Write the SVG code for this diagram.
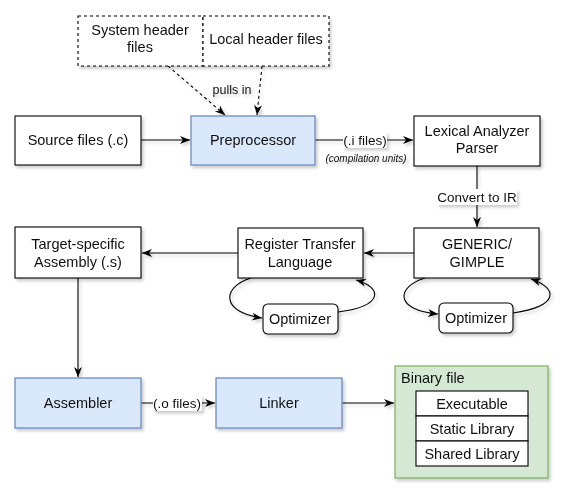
<svg xmlns="http://www.w3.org/2000/svg" width="575" height="502" viewBox="0 0 575 502">
<style>
text{font-family:"Liberation Sans",Arial,sans-serif;fill:#111;text-anchor:middle;dominant-baseline:central}
.n{font-size:14.5px}
.l{font-size:13.5px}
.box{fill:#fff;stroke:#000;stroke-width:1.1}
.blue{fill:#dae8fc;stroke:#6c8ebf;stroke-width:1.3}
.green{fill:#d5e8d4;stroke:#82b366;stroke-width:1.3}
.dash{fill:#fff;stroke:#000;stroke-width:1.1;stroke-dasharray:3 3}
.e{fill:none;stroke:#000;stroke-width:1.1;marker-end:url(#arr)}
.ed{fill:none;stroke:#000;stroke-width:1.1;stroke-dasharray:3 3;marker-end:url(#arr)}
.lb{fill:#fff}
</style>
<defs>
<filter id="sh" x="-10%" y="-10%" width="130%" height="140%">
<feDropShadow dx="2" dy="2.5" stdDeviation="1.5" flood-color="#000" flood-opacity="0.2"/>
</filter>
<marker id="arr" viewBox="0 0 10 10" refX="10" refY="5" markerWidth="10" markerHeight="10" markerUnits="userSpaceOnUse" orient="auto">
<path d="M0,1 L10,5 L0,9 L3,5 z" fill="#000"/>
</marker>
</defs>

<g id="connectors" filter="url(#sh)">
<path class="ed" d="M168,66 L225,115"/>
<path class="ed" d="M262,66 L257,115"/>
<path class="e" d="M141,140 L190,140"/>
<path class="e" d="M315,140 L413,140"/>
<path class="e" d="M477,166 L477,227"/>
<path class="e" d="M414,253 L364,253"/>
<path class="e" d="M238,253 L142,253"/>
<path class="e" d="M78,278 L78,377"/>
<path class="e" d="M141,403 L215,403"/>
<path class="e" d="M342,403 L394,403"/>
<path class="e" d="M251,278 C222,287 220,312 262,318"/>
<path class="e" d="M338,312 C385,306 382,287 356,280"/>
<path class="e" d="M425,278 C396,287 394,310 438,314"/>
<path class="e" d="M513,313 C560,306 558,288 531,279"/>
<rect class="lb" x="343" y="132" width="44" height="16"/>
<text class="l" x="365" y="140">(.i files)</text>
<text x="366" y="158" style="font-size:10px;font-style:italic">(compilation units)</text>
<rect class="lb" x="437" y="189" width="80" height="16"/>
<text class="l" x="477" y="197">Convert to IR</text>
<text x="232" y="90" style="font-size:12.5px">pulls in</text>
<rect class="lb" x="153" y="395" width="49" height="16"/>
<text class="l" x="177" y="403">(.o files)</text>
</g>

<g id="system-header" filter="url(#sh)">
<rect class="dash" x="78" y="16" width="125" height="50"/>
<text class="n" x="140" y="30">System header</text>
<text class="n" x="140" y="47">files</text>
</g>
<g id="local-header" filter="url(#sh)">
<rect class="dash" x="203" y="16" width="126" height="50"/>
<text class="n" x="266" y="39">Local header files</text>
</g>
<g id="source" filter="url(#sh)">
<rect class="box" x="15" y="116" width="126" height="49"/>
<text class="n" x="78" y="140">Source files (.c)</text>
</g>
<g id="preprocessor" filter="url(#sh)">
<rect class="blue" x="191" y="116" width="124" height="49"/>
<text class="n" x="253" y="140">Preprocessor</text>
</g>
<g id="lexer" filter="url(#sh)">
<rect class="box" x="414" y="116" width="126" height="50"/>
<text class="n" x="477" y="131">Lexical Analyzer</text>
<text class="n" x="477" y="148">Parser</text>
</g>
<g id="generic" filter="url(#sh)">
<rect class="box" x="414" y="228" width="125" height="50"/>
<text class="n" x="477" y="244">GENERIC/</text>
<text class="n" x="477" y="262">GIMPLE</text>
</g>
<g id="rtl" filter="url(#sh)">
<rect class="box" x="238" y="228" width="125" height="50"/>
<text class="n" x="300" y="244">Register Transfer</text>
<text class="n" x="300" y="262">Language</text>
</g>
<g id="target" filter="url(#sh)">
<rect class="box" x="15" y="227" width="126" height="51"/>
<text class="n" x="78" y="244">Target-specific</text>
<text class="n" x="78" y="262">Assembly (.s)</text>
</g>
<g id="opt-rtl" filter="url(#sh)">
<rect class="box" x="263" y="304" width="75" height="30" rx="5"/>
<text class="n" x="300" y="319">Optimizer</text>
</g>
<g id="opt-generic" filter="url(#sh)">
<rect class="box" x="439" y="303" width="74" height="30" rx="5"/>
<text class="n" x="476" y="318">Optimizer</text>
</g>
<g id="assembler" filter="url(#sh)">
<rect class="blue" x="15" y="378" width="126" height="50"/>
<text class="n" x="78" y="403">Assembler</text>
</g>
<g id="linker" filter="url(#sh)">
<rect class="blue" x="216" y="378" width="126" height="50"/>
<text class="n" x="279" y="403">Linker</text>
</g>
<g id="binary" filter="url(#sh)">
<rect class="green" x="395" y="366" width="153" height="112"/>
<text class="n" x="401" y="378" style="text-anchor:start">Binary file</text>
<rect class="box" x="416" y="391" width="112" height="25"/>
<text class="n" x="472" y="403.5">Executable</text>
<rect class="box" x="416" y="416" width="112" height="25"/>
<text class="n" x="472" y="428.5">Static Library</text>
<rect class="box" x="416" y="441" width="112" height="25"/>
<text class="n" x="472" y="453.5">Shared Library</text>
</g>
</svg>
